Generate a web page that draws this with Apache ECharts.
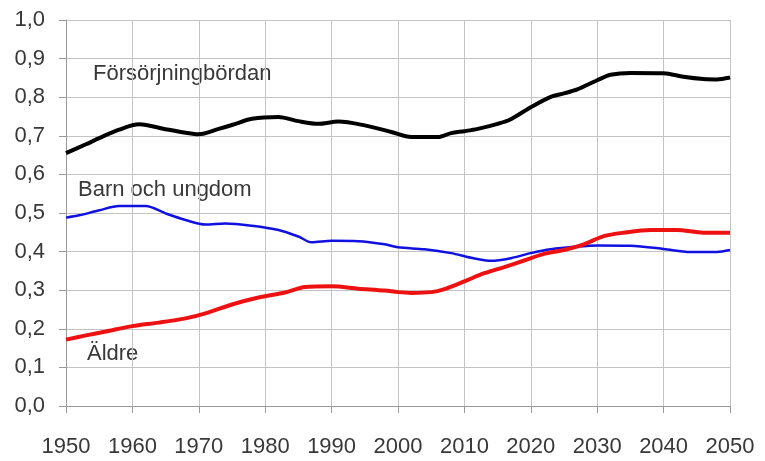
<!DOCTYPE html>
<html>
<head>
<meta charset="utf-8">
<script src="https://cdn.jsdelivr.net/npm/echarts@6/dist/echarts.min.js"></script>
<style>html,body{margin:0;padding:0;background:#fff}#c{width:765px;height:461px}</style>
</head>
<body>
<div id="c"></div>
<script>
// Försörjningbördan (black)
const yearsTotal = [1950,1953,1955,1958,1961,1965,1968,1970,1973,1975,1978,1982,1985,1988,1991,1995,1999,2002,2006,2008,2010,2012,2015,2017,2020,2023,2025,2027,2030,2032,2035,2040,2043,2046,2048,2050];
const valuesTotal = [0.655,0.678,0.694,0.716,0.730,0.717,0.708,0.704,0.718,0.728,0.744,0.749,0.738,0.731,0.737,0.727,0.710,0.697,0.697,0.707,0.712,0.718,0.731,0.743,0.774,0.801,0.810,0.820,0.844,0.858,0.863,0.862,0.853,0.847,0.846,0.851];
// Barn och ungdom (blue)
const yearsYoung = [1950,1952,1955,1958,1962,1965,1968,1971,1974,1978,1982,1985,1987,1990,1994,1998,2000,2004,2008,2011,2014,2017,2020,2023,2027,2030,2035,2040,2044,2048,2050];
const valuesYoung = [0.488,0.494,0.507,0.518,0.518,0.499,0.482,0.470,0.473,0.467,0.456,0.439,0.424,0.428,0.427,0.419,0.411,0.406,0.396,0.384,0.376,0.383,0.396,0.406,0.413,0.416,0.415,0.407,0.399,0.399,0.404];
// Äldre (red)
const yearsOld = [1950,1953,1956,1960,1964,1968,1971,1975,1979,1983,1986,1990,1994,1998,2000,2002,2005,2007,2010,2013,2016,2019,2022,2025,2028,2031,2034,2038,2042,2046,2050];
const valuesOld = [0.172,0.183,0.193,0.207,0.216,0.227,0.240,0.263,0.281,0.294,0.308,0.310,0.304,0.299,0.295,0.293,0.295,0.303,0.323,0.344,0.360,0.377,0.394,0.404,0.419,0.440,0.449,0.456,0.456,0.449,0.449];

const seriesNames = ['Försörjningbördan','Barn och ungdom','Äldre'];
const xTicks = {min:1950, max:2050, interval:10};
const yTicks = {min:0, max:1, interval:0.1};

function pairs(xs, ys){ return xs.map((x,i)=>[x, ys[i]]); }

const chart = echarts.init(document.getElementById('c'), null, {renderer:'canvas'});
const gridColor = '#c4c4c4';
const axisColor = '#9a9a9a';
const txt = '#383838';
chart.setOption({
  animation:false,
  backgroundColor:'#fff',
  grid:{left:66, right:35, top:20, bottom:55, containLabel:false},
  xAxis:{
    type:'value', min:xTicks.min, max:xTicks.max, interval:xTicks.interval,
    axisLine:{show:true, onZero:false, lineStyle:{color:axisColor, width:1}},
    axisTick:{show:true, length:7, lineStyle:{color:axisColor}},
    splitLine:{show:true, lineStyle:{color:gridColor, width:1}},
    axisLabel:{color:txt, fontFamily:'"Liberation Sans", Arial, sans-serif', fontSize:22, margin:30, formatter:v=>String(v)}
  },
  yAxis:{
    type:'value', min:yTicks.min, max:yTicks.max, interval:yTicks.interval,
    axisLine:{show:true, lineStyle:{color:axisColor, width:1}},
    axisTick:{show:true, length:7, lineStyle:{color:axisColor}},
    splitLine:{show:true, lineStyle:{color:gridColor, width:1}},
    axisLabel:{color:txt, fontFamily:'"Liberation Sans", Arial, sans-serif', fontSize:22, margin:21, formatter:v=>v.toFixed(1).replace('.',',')}
  },
  series:[
    {name:seriesNames[0], type:'line', data:pairs(yearsTotal, valuesTotal), showSymbol:false, smooth:0.3, lineStyle:{color:'#000000', width:4}, z:3},
    {name:seriesNames[1], type:'line', data:pairs(yearsYoung, valuesYoung), showSymbol:false, smooth:0.3, lineStyle:{color:'#1010e0', width:2.5}, z:2},
    {name:seriesNames[2], type:'line', data:pairs(yearsOld, valuesOld), showSymbol:false, smooth:0.3, lineStyle:{color:'#ee1111', width:4}, z:4}
  ],
  graphic:[
    {type:'text', left:93, top:63, style:{text:seriesNames[0], fill:txt, font:'22px "Liberation Sans", Arial, sans-serif'}},
    {type:'text', left:78, top:179, style:{text:seriesNames[1], fill:txt, font:'22px "Liberation Sans", Arial, sans-serif'}},
    {type:'text', left:87, top:343, style:{text:seriesNames[2], fill:txt, font:'22px "Liberation Sans", Arial, sans-serif'}}
  ]
});
</script>
</body>
</html>
